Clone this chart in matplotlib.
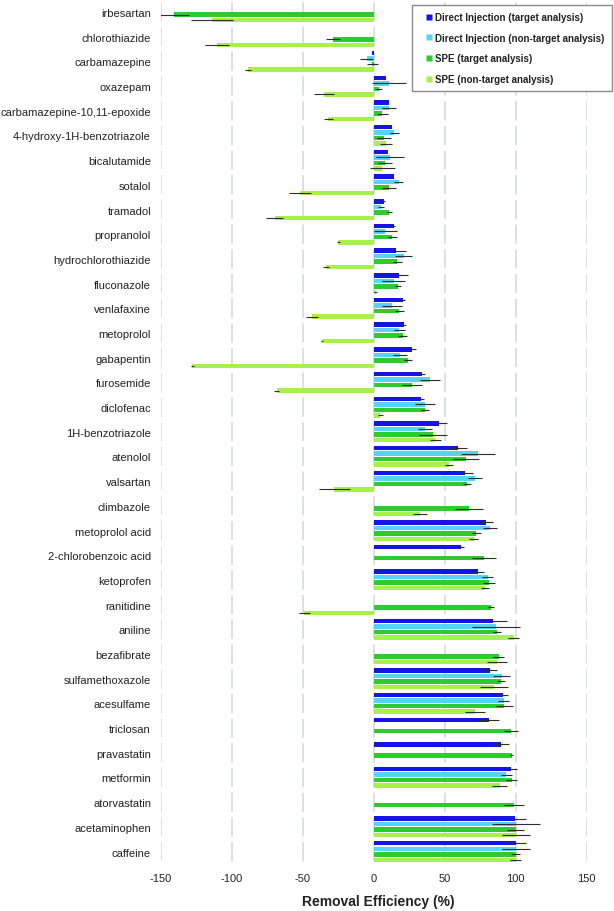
import matplotlib
matplotlib.use('Agg')
import matplotlib.pyplot as plt
import numpy as np
from matplotlib.lines import Line2D

plt.rcParams['font.family'] = ['Liberation Sans', 'DejaVu Sans']
plt.rcParams['lines.scale_dashes'] = False

nan = np.nan

compounds = ["irbesartan", "chlorothiazide", "carbamazepine", "oxazepam",
             "carbamazepine-10,11-epoxide", "4-hydroxy-1H-benzotriazole",
             "bicalutamide", "sotalol", "tramadol", "propranolol",
             "hydrochlorothiazide", "fluconazole", "venlafaxine", "metoprolol",
             "gabapentin", "furosemide", "diclofenac", "1H-benzotriazole",
             "atenolol", "valsartan", "climbazole", "metoprolol acid",
             "2-chlorobenzoic acid", "ketoprofen", "ranitidine", "aniline",
             "bezafibrate", "sulfamethoxazole", "acesulfame", "triclosan",
             "pravastatin", "metformin", "atorvastatin", "acetaminophen",
             "caffeine"]

series_names = ["Direct Injection (target analysis)",
                "Direct Injection (non-target analysis)",
                "SPE (target analysis)",
                "SPE (non-target analysis)"]

di_target = [nan, nan, -1.5, 8.8, 11, 13, 10, 14, 7, 14,
             15.5, 18, 20.3, 21.5, 27, 34, 33.2, 45.7, 59.3, 64,
             nan, 79, 61.4, 73.4, nan, 84, nan, 81.6, 90.7, 81.3,
             89.5, 96.6, nan, 99.2, 100]
di_target_err = [0, 0, 0, 0, 0, 0, 0, 0, 1, 1,
                 7, 6, 2, 1, 3, 2, 2, 6, 6, 6,
                 0, 5, 2, 4, 0, 10, 0, 5, 4, 7,
                 6, 4, 0, 8, 7]

di_nontarget = [nan, nan, -5, 11, 10.5, 14.5, 11.5, 17.5, 5, 8,
                21, 14, 12.5, 18, 18.7, 39.3, 36.3, 36, 73.4, 71,
                nan, 81.6, nan, 80.2, nan, 86.3, nan, 90.2, 91.4, nan,
                nan, 93.3, nan, 100, 100]
di_nontarget_err = [0, 0, 4.5, 12, 5, 3, 10, 3, 2, 8,
                    6, 8, 7, 4, 5, 7, 7, 5, 12, 5,
                    0, 5, 0, 4, 0, 17, 0, 6, 4, 0,
                    0, 4, 0, 17, 10]

spe_target = [-140.5, -29, -1, 3.5, 6, 7, 8, 10.5, 11, 13,
              16.5, 17, 18, 20.3, 24, 27, 36, 41.5, 65, 65.6,
              67, 72.2, 77.8, 81.1, 82.5, 86.7, 88, 89.5, 92, 96.6,
              97.3, 97.1, 99, 100, 100]
spe_target_err = [10, 5, 4, 2, 4, 5, 5, 5, 2, 3,
                  3, 2, 3, 3, 3, 7, 3, 10, 9, 3,
                  10, 3, 8.5, 4, 2, 3, 4, 3, 6, 5,
                  1, 4, 7, 6, 3]

spe_nontarget = [-114, -110.5, -88.5, -35, -32, 8.5, 6, -52, -70, -25,
                 -33.5, 1.2, -43.5, -36.5, -128, -68.5, 4.6, 43.3, 53, -28,
                 32.3, 70.3, nan, 78.5, -49, 98.5, 86.7, 84.8, 71.5, nan,
                 nan, 88.6, nan, 100, 100]
spe_nontarget_err = [15, 8.5, 2, 7, 3, 4, 9, 8, 6, 1,
                     2, 1, 4, 1, 1, 2, 2, 4, 3, 11,
                     5, 3, 0, 3, 4, 4, 7, 10, 7, 0,
                     0, 5, 0, 10, 4]

colors = ["#1414e6", "#55d5f5", "#2ecb2e", "#a8f04c"]
x_ticks = [-150, -100, -50, 0, 50, 100, 150]

W, H = 614, 912
fig = plt.figure(figsize=(W / 100, H / 100), dpi=100)
left, right = 161 / W, 586.7 / W
bottom, top = 1 - 864.85 / H, 1 - 0.65 / H
ax = fig.add_axes([left, bottom, right - left, top - bottom])

n = len(compounds)
y = np.arange(n)
pitch = 0.2228
bh = 0.182

# gridlines (dashed, light)
on_px, off_px, off0_px = 19.0, 5.7, 21.85
for xv in x_ticks:
    ax.axvline(xv, color="#d6dce2", lw=1.25, zorder=0,
               linestyle=(off0_px * 0.72, (on_px * 0.72, off_px * 0.72)))

series = [(di_target, di_target_err), (di_nontarget, di_nontarget_err),
          (spe_target, spe_target_err), (spe_nontarget, spe_nontarget_err)]
for k, (vals, errs) in enumerate(series):
    vals = np.array(vals, dtype=float)
    errs = np.array(errs, dtype=float)
    yy = y + (k - 1.5) * pitch
    mask = ~np.isnan(vals)
    ax.barh(yy[mask], vals[mask], height=bh, color=colors[k], lw=0, zorder=2)
    emask = mask & (errs > 0)
    ax.errorbar(vals[emask], yy[emask], xerr=errs[emask], fmt='none',
                ecolor="#2e2e2e", elinewidth=0.8, capsize=0, zorder=3)

ax.set_xlim(-150, 150)
ax.set_ylim(n - 0.5, -0.5)
ax.set_yticks(y)
ax.set_yticklabels(compounds, fontsize=8, color="#222222")
ax.set_xticks(x_ticks)
ax.set_xticklabels([str(v) for v in x_ticks], fontsize=8, color="#222222")
ax.tick_params(axis='both', length=0)
ax.tick_params(axis='y', pad=7.2)
ax.tick_params(axis='x', pad=6.5)
for s in ax.spines.values():
    s.set_visible(False)

fig.text((161 + 586.7) / 2 / W + 0.007, 1 - 902 / H, "Removal Efficiency (%)",
         ha='center', va='center', fontsize=10, fontweight='bold', color="#222222")

handles = [Line2D([], [], marker='s', linestyle='none', markersize=3.8,
                  markerfacecolor=c, markeredgecolor='none') for c in colors]
leg = fig.legend(handles, series_names, loc='upper left',
                 bbox_to_anchor=(412.3 / W, 1 - 5.7 / H),
                 prop={'size': 7, 'weight': 'bold'},
                 frameon=True, fancybox=False, framealpha=1,
                 edgecolor="#8c8c8c", borderpad=0.77, labelspacing=1.09,
                 handlelength=1.85, handletextpad=-0.28, borderaxespad=0)
leg.get_frame().set_linewidth(1.0)
for t in leg.get_texts():
    t.set_color("#222222")

fig.savefig("out.png", dpi=100)
